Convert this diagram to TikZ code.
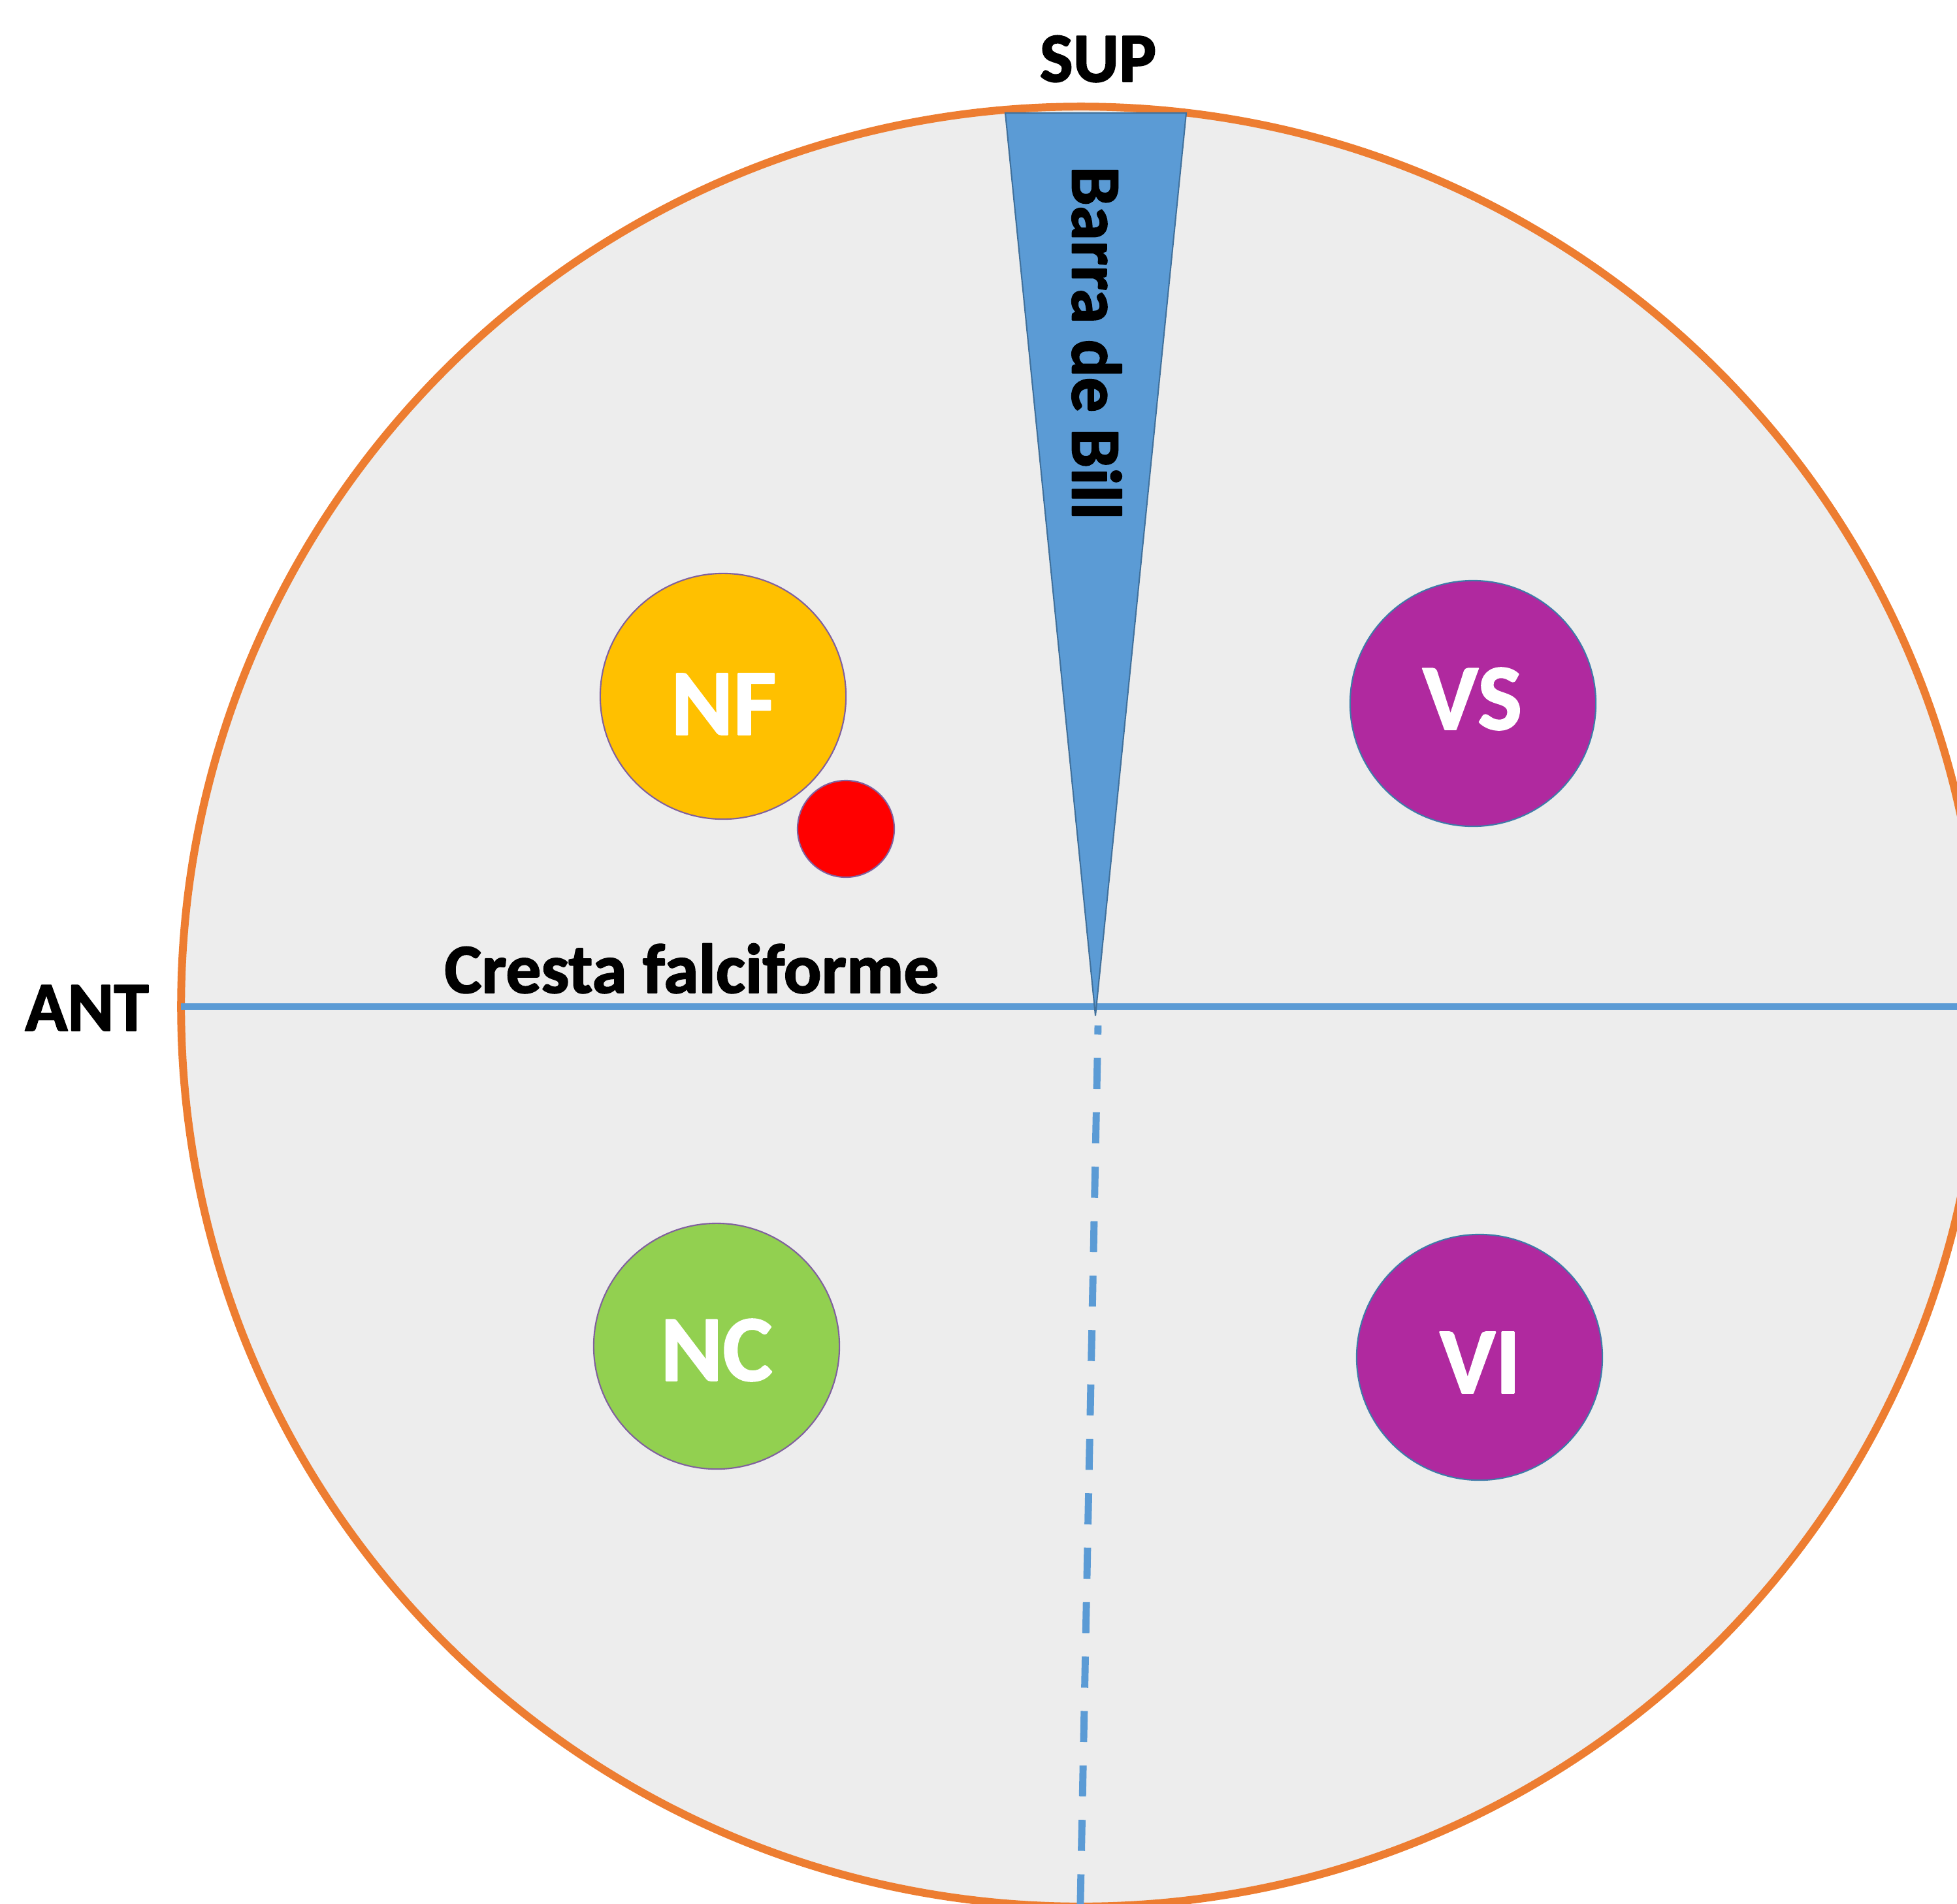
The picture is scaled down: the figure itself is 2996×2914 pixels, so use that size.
\documentclass[tikz,border=0pt]{standalone}
\usepackage{fontspec}
\setmainfont{Carlito}
\definecolor{bgfill}{HTML}{EDEDED}
\definecolor{rimorange}{HTML}{ED7D31}
\definecolor{axisblue}{HTML}{5B9BD5}
\definecolor{wedgeedge}{HTML}{41719C}
\definecolor{nfyellow}{HTML}{FFC000}
\definecolor{ncgreen}{HTML}{92D050}
\definecolor{vpurple}{HTML}{B0299F}
\definecolor{edgepurple}{HTML}{80609E}
\definecolor{edgeblue}{HTML}{3E7BA8}
% text filled in one colour and stroked round in another (one copy of the text)
% #1 fill colour, #2 stroke rgb, #3 stroke width (bp), #4 text
\newcommand{\outlinedtext}[4]{{\color{#1}\special{pdf:literal direct #2 RG 2 Tr #3 w 1 j}#4\special{pdf:literal direct 0 Tr 0 j}}}
\newcommand{\darklabel}[1]{\outlinedtext{black}{0 0 0}{0.55}{#1}}
\newcommand{\lightlabel}[1]{\outlinedtext{white}{1 1 1}{0.6}{#1}}
\begin{document}
\begin{tikzpicture}[x=0.01cm,y=-0.01cm,
  rim/.style={circle, inner sep=0pt, outer sep=0pt, minimum size=27.54cm,
    fill=bgfill, draw=rimorange, line width=3.4pt},
  axisline/.style={draw=axisblue, line width=3.1pt},
  dashaxis/.style={draw=axisblue, line width=3.1pt,
    dash pattern={on 13.5pt off 10.2pt}, dash phase=9.6pt},
  wedgeshape/.style={fill=axisblue, draw=wedgeedge, line width=0.6pt, line join=miter},
  blob/.style={circle, inner sep=0pt, outer sep=0pt, minimum size=3.76cm, line width=0.6pt},
  whitelbl/.style={inner sep=0pt, font=\fontsize{41}{41}\selectfont\bfseries},
  blacklbl/.style={inner sep=0pt, font=\fontsize{30.6}{30.6}\selectfont\bfseries}]
\useasboundingbox (0,0) rectangle (2996,2914);
\node[rim] (rim) at (1655,1541) {};
\draw[axisline] (rim.west) -- (rim.east);
\coordinate (wTL) at (1539,173);
\coordinate (wTR) at (1816,173);
\coordinate (wApex) at (1677,1555);
\draw[wedgeshape] (wTL) -- (wTR) -- (wApex) -- cycle;
\coordinate (dTop) at (1681,1570);
\coordinate (dBot) at (1653,2960);
\draw[dashaxis] (dTop) -- (dBot);
\node[blob, fill=nfyellow, draw=edgepurple] (NF) at (1107,1066) {};
\node[blob, fill=red, draw=edgepurple, minimum size=1.48cm] (redspot) at (1295,1269) {};
\node[blob, fill=vpurple, draw=edgeblue] (VS) at (2255,1077) {};
\node[blob, fill=ncgreen, draw=edgepurple] (NC) at (1097,2061) {};
\node[blob, fill=vpurple, draw=edgeblue] (VI) at (2265,2078) {};
\node[whitelbl] (NFtext) at (1108,1078) {\lightlabel{NF}};
\node[whitelbl] (VStext) at (2254,1070) {\lightlabel{VS}};
\node[whitelbl] (NCtext) at (1097,2067) {\lightlabel{NC}};
\node[whitelbl] (VItext) at (2266,2086) {\lightlabel{VI}};
\node[blacklbl, anchor=base] (SUP) at (1681,125) {\darklabel{SUP}};
\node[blacklbl, anchor=base] (ANT) at (133,1578) {\darklabel{ANT}};
\node[blacklbl, anchor=base] (cresta) at (1059,1520) {\darklabel{Cresta falciforme}};
\node[blacklbl, rotate=-90] (barra) at (1679,525) {\darklabel{Barra de Bill}};
\end{tikzpicture}
\end{document}
